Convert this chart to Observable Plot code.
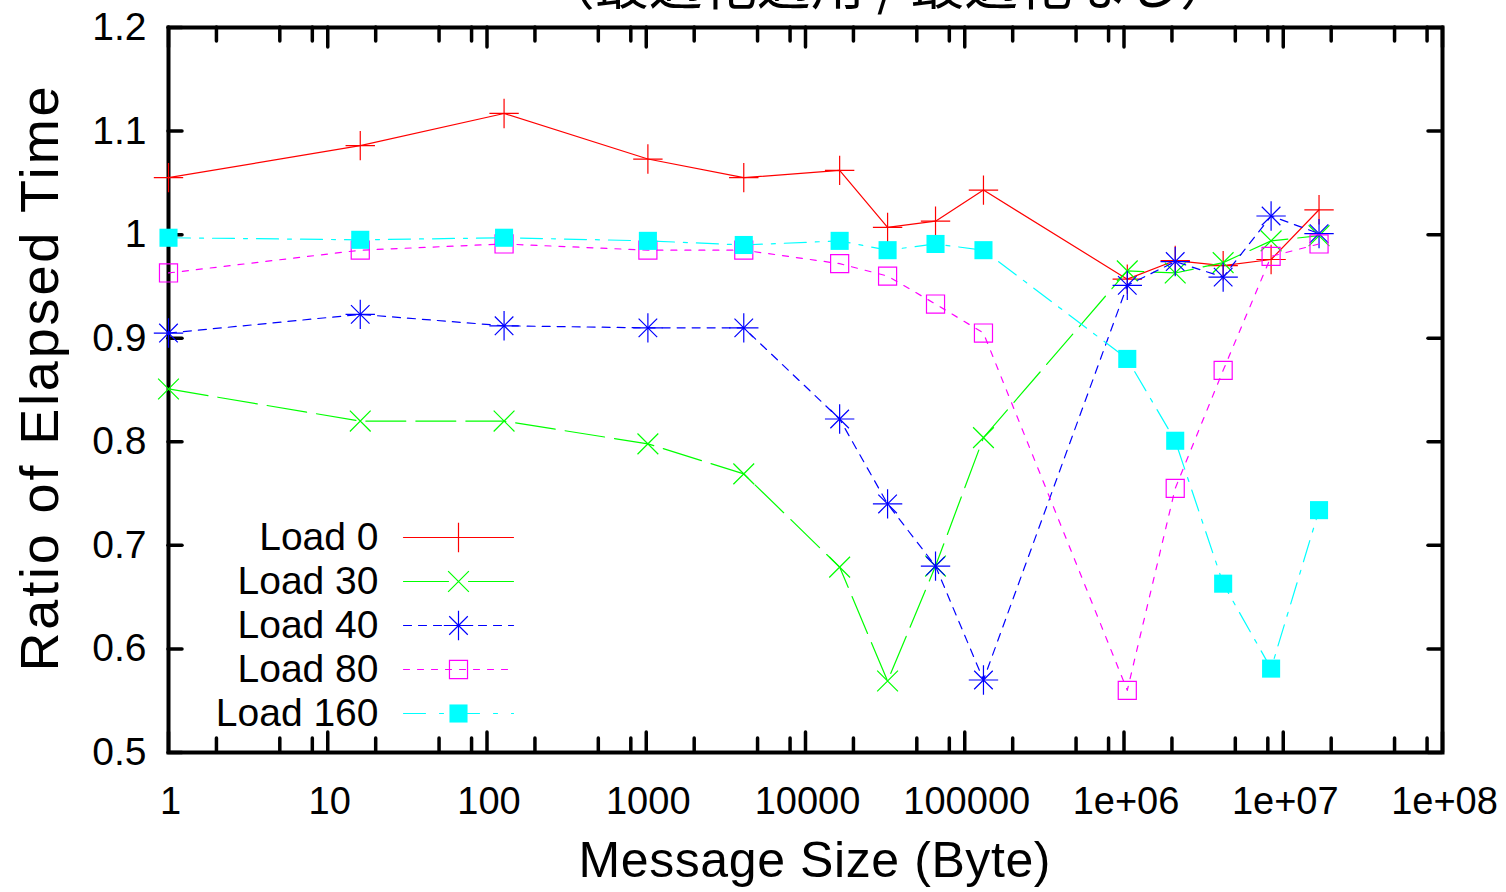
<!DOCTYPE html>
<html>
<head>
<meta charset="utf-8">
<script src="https://cdn.jsdelivr.net/npm/d3@7"></script>
<script src="https://cdn.jsdelivr.net/npm/@observablehq/plot@0.6"></script>
<style>
  html, body { margin: 0; padding: 0; background: #ffffff; }
  #chart { width: 1506px; height: 892px; overflow: hidden; }
</style>
</head>
<body>
<div id="chart"></div>
<script>
// ---------- data ----------
const title = "（最適化適用 / 最適化なし）";
const xLabel = "Message Size (Byte)";
const yLabel = "Ratio of Elapsed Time";

const messageSizes = [1, 16, 128, 1024, 4096, 16384, 32768, 65536, 131072, 1048576, 2097152, 4194304, 8388608, 16777216];
const seriesNames = ["Load 0", "Load 30", "Load 40", "Load 80", "Load 160"];
const load0   = [1.055, 1.086, 1.117, 1.073, 1.055, 1.062, 1.007, 1.013, 1.043, 0.957, 0.975, 0.970, 0.976, 1.024];
const load30  = [0.851, 0.820, 0.820, 0.798, 0.769, 0.679, 0.569, 0.680, 0.804, 0.965, 0.963, 0.973, 0.994, 0.999];
const load40  = [0.905, 0.923, 0.912, 0.910, 0.910, 0.822, 0.740, 0.680, 0.570, 0.951, 0.974, 0.959, 1.018, 1.001];
const load80  = [0.963, 0.985, 0.991, 0.985, 0.985, 0.972, 0.960, 0.933, 0.905, 0.560, 0.755, 0.869, 0.979, 0.991];
const load160 = [0.997, 0.995, 0.997, 0.994, 0.990, 0.994, 0.985, 0.991, 0.985, 0.880, 0.801, 0.663, 0.581, 0.734];

const xTicks = [1, 10, 100, 1000, 10000, 100000, 1e6, 1e7, 1e8];
const xTickLabels = ["1", "10", "100", "1000", "10000", "100000", "1e+06", "1e+07", "1e+08"];
const xMinorTicks = [2, 5, 8, 20, 50, 80, 200, 500, 800, 2000, 5000, 8000, 2e4, 5e4, 8e4,
                     2e5, 5e5, 8e5, 2e6, 5e6, 8e6, 2e7, 5e7, 8e7];
const yTicks = [0.5, 0.6, 0.7, 0.8, 0.9, 1.0, 1.1, 1.2];
const yTickLabels = ["0.5", "0.6", "0.7", "0.8", "0.9", "1", "1.1", "1.2"];

// ---------- styles ----------
const seriesValues = [load0, load30, load40, load80, load160];
const colors = ["#ff0000", "#00ff00", "#0000ff", "#ff00ff", "#00ffff"];
const dashes = [null, "40,10", "8,7", "6,8", "22,9,4,9"];
const legendDashes = [null, "45,20", "8,7", "6,8", "22,14,4,14"];
const legendRowDy = [-215, -171, -127, -83, -39];

const W = 1506, H = 892, mL = 168, mR = 64, mT = 27, mB = 140;
const innerW = W - mL - mR, innerH = H - mT - mB;
const FONT = "Liberation Sans, Arial, Helvetica, sans-serif";

const rows = seriesNames.map((name, i) =>
  messageSizes.map((x, j) => ({series: name, x, y: seriesValues[i][j]})));

function markerMarks(data, i, opts) {
  const c = colors[i];
  switch (i) {
    case 0: return [Plot.dot(data, {...opts, symbol: "plus", r: 9.5, stroke: c, strokeWidth: 1.2, fill: "none"})];
    case 1: return [Plot.dot(data, {...opts, symbol: "times", r: 9.5, stroke: c, strokeWidth: 1.2, fill: "none"})];
    case 2: return [
      Plot.dot(data, {...opts, symbol: "plus", r: 9.5, stroke: c, strokeWidth: 1.2, fill: "none"}),
      Plot.dot(data, {...opts, symbol: "times", r: 8.5, stroke: c, strokeWidth: 1.2, fill: "none"})
    ];
    case 3: return [Plot.dot(data, {...opts, symbol: "square2", r: 11.5, stroke: c, strokeWidth: 1.2, fill: "none"})];
    case 4: return [Plot.dot(data, {...opts, symbol: "square", r: 10.2, fill: c, stroke: "none"})];
  }
}

const lineShape = {draw(context, l) { context.moveTo(0, 0); context.lineTo(0, -l); }};

const marks = [];

// frame and ticks (gnuplot style: inward ticks, mirrored)
marks.push(Plot.frame({stroke: "black", strokeWidth: 4}));
const tickStyle = {stroke: "black", strokeWidth: 3.5, strokeLinecap: "round"};
marks.push(Plot.ruleX(xTicks, {x: d => d, insetTop: innerH - 20, ...tickStyle}));
marks.push(Plot.ruleX(xTicks, {x: d => d, insetBottom: innerH - 20, ...tickStyle}));
marks.push(Plot.ruleX(xMinorTicks, {x: d => d, insetTop: innerH - 14, ...tickStyle}));
marks.push(Plot.ruleX(xMinorTicks, {x: d => d, insetBottom: innerH - 14, ...tickStyle}));
marks.push(Plot.ruleY(yTicks, {y: d => d, insetRight: innerW - 14, ...tickStyle}));
marks.push(Plot.ruleY(yTicks, {y: d => d, insetLeft: innerW - 14, ...tickStyle}));

// tick labels
marks.push(Plot.axisX({ticks: xTicks, tickFormat: d => xTickLabels[xTicks.indexOf(d)],
  tickSize: 0, tickPadding: 35, fontSize: 38, label: null, dx: 2}));
marks.push(Plot.axisY({anchor: "left", ticks: yTicks, tickFormat: d => yTickLabels[yTicks.findIndex(t => Math.abs(t - d) < 1e-9)],
  tickSize: 0, tickPadding: 22, fontSize: 39, label: null}));

// series
seriesNames.forEach((name, i) => {
  marks.push(Plot.line(rows[i], {x: "x", y: "y", stroke: colors[i], strokeWidth: 1.2,
    strokeDasharray: dashes[i]}));
  marks.push(...markerMarks(rows[i], i, {x: "x", y: "y"}));
});

// legend (inside the frame, lower left)
seriesNames.forEach((name, i) => {
  const dy = legendRowDy[i];
  marks.push(Plot.text([name], {frameAnchor: "bottom-left", dx: 210, dy, text: d => d,
    textAnchor: "end", lineAnchor: "middle", fontSize: 39}));
  marks.push(Plot.vector([0], {frameAnchor: "bottom-left", dx: 235, dy, length: 110, rotate: 90,
    anchor: "start", shape: lineShape, stroke: colors[i], strokeWidth: 1.2, strokeDasharray: legendDashes[i]}));
  marks.push(...markerMarks([0], i, {frameAnchor: "bottom-left", dx: 290, dy}));
});

// titles
marks.push(Plot.text([yLabel], {frameAnchor: "left", text: d => d, rotate: -90, dx: -128, dy: -11,
  fontSize: 54, lineAnchor: "middle", textAnchor: "middle"}));
marks.push(Plot.text([xLabel], {frameAnchor: "bottom", text: d => d, dx: 9, dy: 108,
  fontSize: 50, lineAnchor: "middle", textAnchor: "middle"}));
marks.push(Plot.text([title], {frameAnchor: "top", text: d => d, dx: 82, dy: -23,
  fontSize: 54, lineAnchor: "bottom", textAnchor: "middle", fontFamily: "Noto Sans CJK JP"}));

const plot = Plot.plot({
  width: W, height: H,
  marginLeft: mL, marginRight: mR, marginTop: mT, marginBottom: mB,
  x: {type: "log", domain: [1, 1e8], label: null},
  y: {domain: [0.5, 1.2], label: null},
  style: {fontFamily: FONT, background: "#ffffff", color: "#000000"},
  marks
});

// stretch axis titles to the reference's spacing
d3.select(plot).selectAll("text").each(function() {
  const t = this.textContent;
  if (t === yLabel) d3.select(this).attr("textLength", 585).attr("lengthAdjust", "spacing");
  if (t === xLabel) d3.select(this).attr("textLength", 472).attr("lengthAdjust", "spacing");
});

document.getElementById("chart").appendChild(plot);
</script>
</body>
</html>
